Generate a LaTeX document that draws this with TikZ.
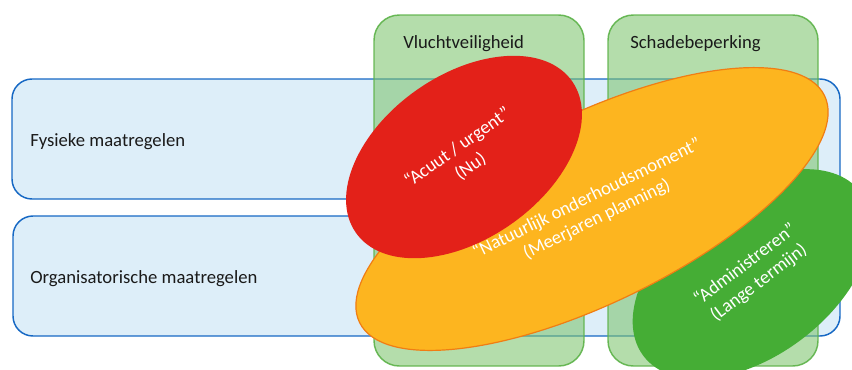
\documentclass[tikz,border=0pt]{standalone}
\usepackage{fontspec}
\setmainfont{Carlito}
\usetikzlibrary{shapes.geometric}

\definecolor{rowfill}{RGB}{221,238,249}
\definecolor{rowline}{RGB}{22,104,196}
\definecolor{colfill}{RGB}{125,196,110}
\definecolor{colline}{RGB}{92,178,72}
\definecolor{blobred}{RGB}{227,33,25}
\definecolor{bloborange}{RGB}{253,181,31}
\definecolor{orangeline}{RGB}{240,125,20}
\definecolor{blobgreen}{RGB}{69,173,53}
\definecolor{labeltext}{RGB}{26,26,26}

\tikzset{
  rowbox/.style={fill=rowfill, draw=rowline, line width=1.1pt, rounded corners=15pt},
  colbox/.style={fill=colfill, fill opacity=0.58, draw=colline, draw opacity=0.9, line width=1.1pt, rounded corners=19pt},
  lbl/.style={anchor=west, text=labeltext, font=\fontsize{14}{17}\selectfont, inner sep=0pt},
  blob/.style={ellipse, inner sep=0pt, text=white, align=center, font=\fontsize{14}{17}\selectfont},
}

\begin{document}
\begin{tikzpicture}[x=0.75pt, y=-0.75pt]
  \clip (0,0) rectangle (852,369);

  % themes (rows)
  \draw[rowbox] (12,79) rectangle (840,199);
  \draw[rowbox] (13,216) rectangle (840,336);
  \node[lbl] (fys) at (30,142) {Fysieke maatregelen};
  \node[lbl] (org) at (30,279) {Organisatorische maatregelen};

  % goals (columns)
  \draw[colbox] (374,15) rectangle (584,366);
  \draw[colbox] (608,15) rectangle (818,366);
  \node[lbl] (vlucht) at (403,44) {Vluchtveiligheid};
  \node[lbl] (schade) at (630,44) {Schadebeperking};

  % time horizons: long term lies underneath, urgent on top
  \node[blob, fill=blobgreen, minimum width=204pt, minimum height=123pt, rotate=37]
        (admin) at (752,274) {“Administreren”\\(Lange termijn)};
  \node[blob, fill=bloborange, draw=orangeline, line width=0.9pt,
        minimum width=388pt, minimum height=141pt, rotate=26]
        (natuurlijk) at (592,209)
        {“Natuurlijk onderhoudsmoment”\\(Meerjaren planning)};
  \node[blob, fill=blobred, minimum width=198pt, minimum height=123pt, rotate=35]
        (acuut) at (464,157) {“Acuut / urgent”\\(Nu)};
\end{tikzpicture}
\end{document}
